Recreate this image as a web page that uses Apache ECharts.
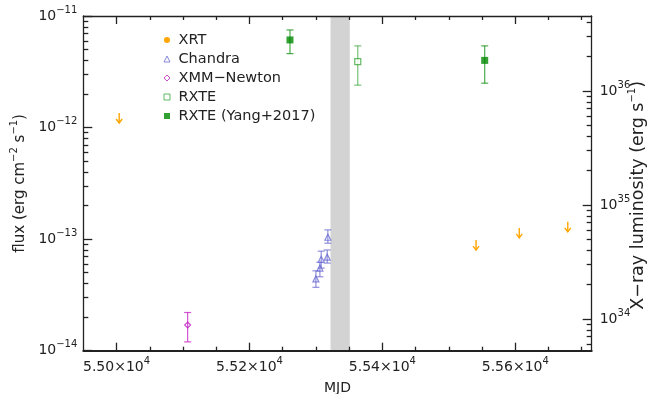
<!DOCTYPE html>
<html>
<head>
<meta charset="utf-8">
<script src="https://cdn.jsdelivr.net/npm/echarts@6/dist/echarts.min.js"></script>
<style>
  html, body { margin: 0; padding: 0; background: #fff; }
  #chart { width: 651px; height: 394px; }
</style>
</head>
<body>
<div id="chart"></div>
<script>
// axis ranges (flux / luminosity axes are in log10 space)
const mjdMin = 54950
const mjdMax = 55715
const fluxExpMin = -14
const fluxExpMax = -11
const lumExpMin = 33.722
const lumExpMax = 36.658

// tick positions
const mjdMajor = [55000, 55200, 55400, 55600]
const mjdMinor = [55050, 55100, 55150, 55250, 55300, 55350, 55450, 55500, 55550, 55650, 55700]
const fluxDecades = [-14, -13, -12, -11]
const lumDecades = [34, 35, 36]

// shaded band (MJD)
const bandStart = 55322
const bandEnd = 55351

// Swift/XRT upper limits
const xrtMjd = [55004, 55541, 55606, 55679]
const xrtLimit = [1.35e-12, 9.8e-14, 1.26e-13, 1.43e-13]

// Chandra
const chandraMjd = [55300, 55306, 55308, 55317, 55318]
const chandraFlux = [4.4e-14, 5.5e-14, 6.6e-14, 6.9e-14, 1.04e-13]
const chandraLo = [3.7e-14, 4.6e-14, 5.5e-14, 6.1e-14, 9.2e-14]
const chandraHi = [5.2e-14, 6.2e-14, 7.8e-14, 8.0e-14, 1.21e-13]

// XMM-Newton
const xmmMjd = [55107]
const xmmFlux = [1.7e-14]
const xmmLo = [1.2e-14]
const xmmHi = [2.2e-14]

// RXTE
const rxteMjd = [55363]
const rxteFlux = [3.9e-12]
const rxteLo = [2.4e-12]
const rxteHi = [5.4e-12]

// RXTE (Yang+2017)
const yangMjd = [55261, 55554]
const yangFlux = [6.1e-12, 4.0e-12]
const yangLo = [4.6e-12, 2.5e-12]
const yangHi = [7.5e-12, 5.4e-12]

const FONT = 'DejaVu Sans'
const INK = '#222'
const C_XRT = '#FFA500'
const C_CHANDRA = '#6B6BD2'
const C_XMM = '#C020C0'
const C_RXTE = '#3CA83C'
const C_YANG = '#008800'

const rich = {
  s: { fontFamily: FONT, fontSize: 10, color: INK, verticalAlign: 'top', lineHeight: 10 }
}
const pow10 = v => {
  const e = Math.round(v)
  return '10{s|' + (e < 0 ? '−' : '') + Math.abs(e) + '}'
}

// log-spaced minor ticks between decades
const logMinor = (lo, hi) => {
  const out = []
  for (let n = Math.floor(lo); n < hi; n++) {
    for (let k = 2; k <= 9; k++) {
      const v = n + Math.log10(k)
      if (v > lo && v < hi) out.push(v)
    }
  }
  return out
}

const lineStyle = { color: INK, width: 1.3 }

const xAxes = [
  {
    type: 'value', position: 'bottom', min: mjdMin, max: mjdMax, z: 5,
    axisLine: { show: true, lineStyle: { color: INK, width: 2 } },
    axisTick: { show: true, inside: true, length: 8, customValues: mjdMajor, lineStyle },
    axisLabel: {
      customValues: mjdMajor, margin: 6, fontFamily: FONT, fontSize: 14, color: INK, lineHeight: 22,
      formatter: v => (v / 1e4).toFixed(2) + '×10{s|4}', rich
    },
    splitLine: { show: false },
    name: 'MJD', nameLocation: 'middle', nameGap: 31, nameMoveOverlap: false,
    nameTextStyle: { fontFamily: FONT, fontSize: 14, color: INK }
  },
  {
    type: 'value', position: 'bottom', min: mjdMin, max: mjdMax, z: 5,
    axisLine: { show: false },
    axisTick: { show: true, inside: true, length: 4, customValues: mjdMinor, lineStyle },
    axisLabel: { show: false }, splitLine: { show: false }
  },
  {
    type: 'value', position: 'top', min: mjdMin, max: mjdMax, z: 5,
    axisLine: { show: true, lineStyle },
    axisTick: { show: true, inside: true, length: 8, customValues: mjdMajor, lineStyle },
    axisLabel: { show: false }, splitLine: { show: false }
  },
  {
    type: 'value', position: 'top', min: mjdMin, max: mjdMax, z: 5,
    axisLine: { show: false },
    axisTick: { show: true, inside: true, length: 4, customValues: mjdMinor, lineStyle },
    axisLabel: { show: false }, splitLine: { show: false }
  }
]

const yAxes = [
  {
    type: 'value', position: 'left', min: fluxExpMin, max: fluxExpMax, z: 5,
    axisLine: { show: true, lineStyle },
    axisTick: { show: true, inside: true, length: 9, customValues: fluxDecades, lineStyle },
    axisLabel: {
      customValues: fluxDecades, margin: 6, fontFamily: FONT, fontSize: 14, color: INK, lineHeight: 22,
      formatter: pow10, rich
    },
    splitLine: { show: false },
    name: 'flux (erg cm{s|−2} s{s|−1})', nameLocation: 'middle', nameRotate: 90, nameGap: 52,
    nameMoveOverlap: false,
    nameTextStyle: { fontFamily: FONT, fontSize: 15, color: INK, lineHeight: 22, rich }
  },
  {
    type: 'value', position: 'left', min: fluxExpMin, max: fluxExpMax, z: 5,
    axisLine: { show: false },
    axisTick: { show: true, inside: true, length: 5, customValues: logMinor(fluxExpMin, fluxExpMax), lineStyle },
    axisLabel: { show: false }, splitLine: { show: false }
  },
  {
    type: 'value', position: 'right', min: lumExpMin, max: lumExpMax, z: 5,
    axisLine: { show: true, lineStyle },
    axisTick: { show: true, inside: true, length: 9, customValues: lumDecades, lineStyle },
    axisLabel: {
      customValues: lumDecades, margin: 8,
      fontFamily: FONT, fontSize: 14, color: INK, lineHeight: 22, formatter: pow10, rich
    },
    splitLine: { show: false },
    name: 'X−ray luminosity (erg s{s|−1})', nameLocation: 'middle', nameRotate: 90, nameGap: 36,
    nameMoveOverlap: false,
    nameTextStyle: { fontFamily: FONT, fontSize: 17.5, color: INK, lineHeight: 22, padding: [0, 24, 0, 0], rich }
  },
  {
    type: 'value', position: 'right', min: lumExpMin, max: lumExpMax, z: 5,
    axisLine: { show: false },
    axisTick: { show: true, inside: true, length: 5, customValues: logMinor(lumExpMin, lumExpMax), lineStyle },
    axisLabel: { show: false }, splitLine: { show: false }
  }
]

const errorBars = (name, mjd, lo, hi, color) => ({
  type: 'custom', name, silent: true, z: 3,
  encode: { x: 0, y: [1, 2] },
  data: mjd.map((m, i) => [m, Math.log10(lo[i]), Math.log10(hi[i])]),
  renderItem: (params, api) => {
    const top = api.coord([api.value(0), api.value(2)])
    const bot = api.coord([api.value(0), api.value(1)])
    const w = 3.5
    const st = { stroke: color, lineWidth: 1.2 }
    return {
      type: 'group',
      children: [
        { type: 'line', shape: { x1: top[0], y1: top[1], x2: bot[0], y2: bot[1] }, style: st },
        { type: 'line', shape: { x1: top[0] - w, y1: top[1], x2: top[0] + w, y2: top[1] }, style: st },
        { type: 'line', shape: { x1: bot[0] - w, y1: bot[1], x2: bot[0] + w, y2: bot[1] }, style: st }
      ]
    }
  }
})

const points = (name, mjd, flux, symbol, size, style) => ({
  type: 'scatter', name, symbol, symbolSize: size, z: 4,
  data: mjd.map((m, i) => [m, Math.log10(flux[i])]),
  itemStyle: style
})

const chart = echarts.init(document.getElementById('chart'), null, { renderer: 'canvas' })
chart.setOption({
  animation: false,
  backgroundColor: '#fff',
  grid: { left: 83.3, right: 59.3, top: 16, bottom: 43.3, outerBoundsMode: 'none', containLabel: false },
  xAxis: xAxes,
  yAxis: yAxes,
  legend: {
    orient: 'vertical', left: 163.5, top: 32.5, padding: 0,
    itemWidth: 6, itemHeight: 6, itemGap: 4,
    textStyle: { fontFamily: FONT, fontSize: 14.5, color: INK, lineHeight: 14, padding: [0, 0, 0, 3.5] },
    data: [
      { name: 'XRT', icon: 'circle', itemStyle: { color: C_XRT, borderWidth: 0 } },
      { name: 'Chandra', icon: 'triangle', itemStyle: { color: 'rgba(0,0,0,0)', borderColor: C_CHANDRA, borderWidth: 1 } },
      { name: 'XMM−Newton', icon: 'diamond', itemStyle: { color: 'rgba(0,0,0,0)', borderColor: C_XMM, borderWidth: 1 } },
      { name: 'RXTE', icon: 'rect', itemStyle: { color: 'rgba(0,0,0,0)', borderColor: C_RXTE, borderWidth: 1 } },
      { name: 'RXTE (Yang+2017)', icon: 'rect', itemStyle: { color: C_YANG, borderWidth: 0 } }
    ]
  },
  series: [
    {
      type: 'custom', name: 'XRT', z: 4,
      encode: { x: 0, y: 1 },
      data: xrtMjd.map((m, i) => [m, Math.log10(xrtLimit[i])]),
      renderItem: (params, api) => {
        const p = api.coord([api.value(0), api.value(1)])
        const len = 10, hw = 3
        const st = { stroke: C_XRT, lineWidth: 1.4, fill: null }
        return {
          type: 'group',
          children: [
            { type: 'line', shape: { x1: p[0], y1: p[1], x2: p[0], y2: p[1] + len }, style: st },
            { type: 'polyline', shape: { points: [[p[0] - hw, p[1] + len - 4], [p[0], p[1] + len], [p[0] + hw, p[1] + len - 4]] }, style: st }
          ]
        }
      },
      markArea: {
        silent: true,
        itemStyle: { color: '#D3D3D3' },
        data: [[{ xAxis: bandStart }, { xAxis: bandEnd }]]
      }
    },
    errorBars('chandraErr', chandraMjd, chandraLo, chandraHi, 'rgba(107,107,210,0.75)'),
    points('Chandra', chandraMjd, chandraFlux, 'triangle', 6, { color: 'rgba(0,0,0,0)', borderColor: C_CHANDRA, borderWidth: 1.2 }),
    errorBars('xmmErr', xmmMjd, xmmLo, xmmHi, 'rgba(200,40,200,0.8)'),
    points('XMM−Newton', xmmMjd, xmmFlux, 'diamond', 6, { color: 'rgba(0,0,0,0)', borderColor: C_XMM, borderWidth: 1.2 }),
    errorBars('rxteErr', rxteMjd, rxteLo, rxteHi, 'rgba(60,168,60,0.7)'),
    points('RXTE', rxteMjd, rxteFlux, 'rect', 6, { color: '#fff', borderColor: C_RXTE, borderWidth: 1.2 }),
    errorBars('yangErr', yangMjd, yangLo, yangHi, 'rgba(0,136,0,0.7)'),
    points('RXTE (Yang+2017)', yangMjd, yangFlux, 'rect', 7, { color: C_YANG })
  ]
})
</script>
</body>
</html>
